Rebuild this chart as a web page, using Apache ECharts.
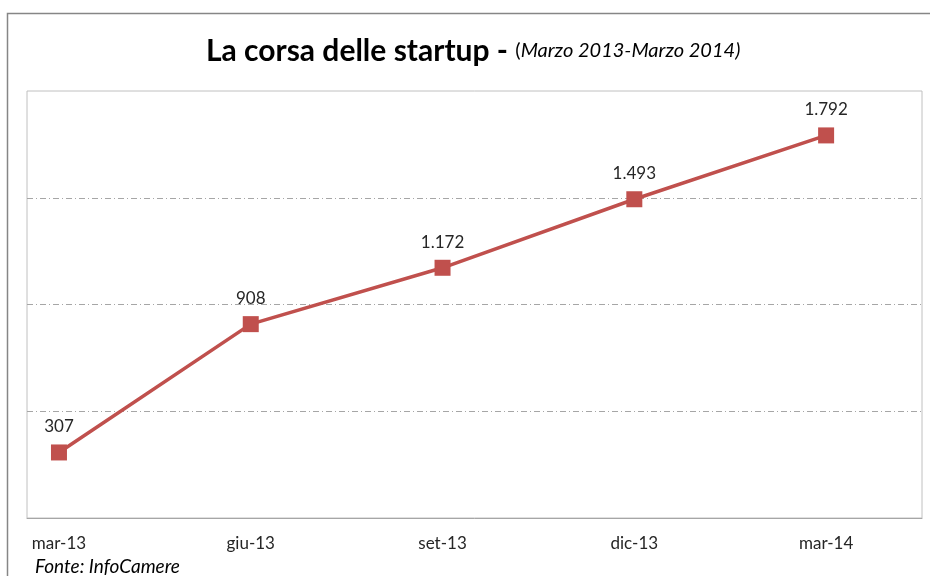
<!DOCTYPE html>
<html>
  <head>
    <meta charset="utf-8" />
    <script src="https://cdn.jsdelivr.net/npm/echarts@6.0.0/dist/echarts.min.js"></script>
    <style>
      html, body { margin: 0; padding: 0; background: #fff; }
    </style>
  </head>
  <body>
    <div id="main" style="width: 930px; height: 576px"></div>

    <script type="text/javascript">
      // monthly slots on the x axis (Excel date axis, labels every 3 months)
      var months = ["mar-13", "apr-13", "mag-13", "giu-13", "lug-13", "ago-13",
                    "set-13", "ott-13", "nov-13", "dic-13", "gen-14", "feb-14",
                    "mar-14", "apr-14"];
      // observed points
      var pointMonths = ["mar-13", "giu-13", "set-13", "dic-13", "mar-14"];
      var startups = [307, 908, 1172, 1493, 1792];

      var seriesData = months.map(function (m) {
        var i = pointMonths.indexOf(m);
        return i >= 0 ? startups[i] : null;
      });

      function itNum(v) {
        return String(v).replace(/\B(?=(\d{3})+(?!\d))/g, ".");
      }

      var myChart = echarts.init(document.getElementById("main"));

      var option = {
        animation: false,
        backgroundColor: "#fff",
        textStyle: { fontFamily: "Lato" },
        title: {
          left: 201,
          top: 31,
          text: "{b|La corsa delle startup - }{p|(}{i|Marzo 2013-Marzo 2014)}",
          textStyle: {
            rich: {
              b: { fontFamily: "Lato", fontWeight: "bold", fontSize: 30, color: "#000" },
              p: { fontFamily: "Lato", fontWeight: "normal", fontSize: 20, color: "#000" },
              i: { fontFamily: "Lato", fontWeight: "normal", fontStyle: "italic", fontSize: 20, color: "#000" }
            }
          }
        },
        graphic: [
          {
            type: "rect",
            shape: { x: 7.5, y: 13.5, width: 1000, height: 1000 },
            style: { fill: "none", stroke: "#868686", lineWidth: 1.5 },
            silent: true
          },
          {
            type: "text",
            left: 35,
            top: 557,
            style: {
              text: "Fonte: InfoCamere",
              font: "italic 19px Lato",
              fill: "#000"
            }
          }
        ],
        grid: {
          left: 27,
          top: 91,
          right: 8,
          bottom: 58,
          show: true,
          borderColor: "#c0c0c0",
          borderWidth: 1,
          containLabel: false
        },
        xAxis: {
          type: "category",
          data: months,
          boundaryGap: true,
          axisLine: { lineStyle: { color: "#a6a6a6", width: 1 } },
          axisTick: { interval: 2, length: 6, lineStyle: { color: "#a6a6a6" } },
          axisLabel: {
            interval: 2,
            margin: 17,
            fontSize: 17,
            color: "#262626",
            fontFamily: "Lato"
          },
          splitLine: { show: false }
        },
        yAxis: {
          type: "value",
          min: 0,
          max: 2000,
          interval: 500,
          axisLine: { show: false },
          axisTick: { show: false },
          axisLabel: { show: false },
          splitLine: {
            showMinLine: false,
            showMaxLine: false,
            lineStyle: { color: "#a6a6a6", width: 1, type: [6, 3, 1, 3] }
          }
        },
        series: [
          {
            type: "line",
            data: seriesData,
            connectNulls: true,
            symbol: "rect",
            symbolSize: 16,
            lineStyle: { color: "#c0504d", width: 3.5 },
            itemStyle: { color: "#c0504d" },
            label: {
              show: true,
              position: "top",
              distance: 9,
              fontSize: 17,
              color: "#262626",
              fontFamily: "Lato",
              formatter: function (p) { return itNum(p.value); }
            }
          }
        ]
      };

      myChart.setOption(option);
    </script>
  </body>
</html>
